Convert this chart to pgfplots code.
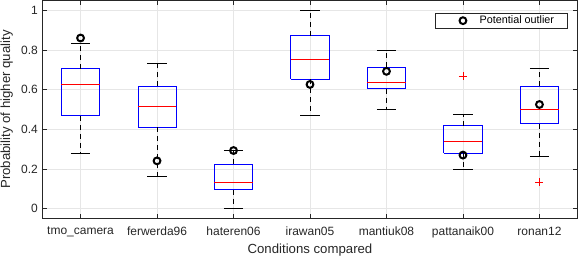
\documentclass[border=0pt]{standalone}
\usepackage{pgfplots}
\pgfplotsset{compat=1.18}
\usepackage{fontspec}
\setmainfont{Liberation Sans}
\definecolor{axcol}{RGB}{38,38,38}
\definecolor{gridcol}{RGB}{230,230,230}
\definecolor{boxblue}{RGB}{0,0,255}
\definecolor{medred}{RGB}{255,0,0}
\begin{document}
\begin{tikzpicture}
\path[use as bounding box] (-42.3bp,-38.7bp) rectangle (538.7bp,218.6bp);
\begin{axis}[
  scale only axis, width=535.4bp, height=218.3bp,
  anchor=south west, at={(0,0)},
  xmin=0.5, xmax=7.5, ymin=-0.05, ymax=1.05,
  xtick={1,2,3,4,5,6,7},
  xticklabels={tmo\_camera,ferwerda96,hateren06,irawan05,mantiuk08,pattanaik00,ronan12},
  ytick={0,0.2,0.4,0.6,0.8,1},
  yticklabels={0,0.2,0.4,0.6,0.8,1},
  tick align=inside, tick pos=both,
  major tick length=5bp,
  every tick/.style={axcol, line width=0.5bp},
  axis line style={axcol, line width=0.6bp},
  grid=major, major grid style={gridcol, line width=0.5bp},
  tick label style={font=\fontsize{12bp}{14bp}\selectfont, text=axcol},
  label style={font=\fontsize{13.2bp}{15bp}\selectfont, text=axcol},
  xlabel={Conditions compared},
  ylabel={Probability of higher quality},
  xlabel style={at={(axis description cs:0.5,0)}, anchor=north, yshift=-22bp},
  ylabel style={at={(axis description cs:0,0.5)}, anchor=south, yshift=26bp},
  xticklabel style={yshift=-5bp},
  yticklabel style={xshift=-1bp},
  unbounded coords=jump,
  legend style={at={(axis description cs:1,1)}, anchor=north east,
    xshift=-10.3bp, yshift=-12.4bp, draw=axcol, line width=0.6bp, fill=white,
    font=\fontsize{10.8bp}{12bp}\selectfont, text=black,
    inner xsep=10bp, inner ysep=1.5bp,
    nodes={inner xsep=3bp, inner ysep=1.5bp}},
  legend cell align=left,
  legend image code/.code={
    \path[draw=none] (0bp,0bp) -- (31.4bp,0bp);
    \draw[#1] plot coordinates {(17.7bp,0bp)};
  },
]
% boxes
\addplot[color=boxblue, line width=0.8bp, mark=none, forget plot] coordinates {(0.75,0.468)(1.25,0.468)(1.25,0.706)(0.75,0.706)(0.75,0.468)};
\addplot[color=boxblue, line width=0.8bp, mark=none, forget plot] coordinates {(1.75,0.411)(2.25,0.411)(2.25,0.616)(1.75,0.616)(1.75,0.411)};
\addplot[color=boxblue, line width=0.8bp, mark=none, forget plot] coordinates {(2.75,0.096)(3.25,0.096)(3.25,0.224)(2.75,0.224)(2.75,0.096)};
\addplot[color=boxblue, line width=0.8bp, mark=none, forget plot] coordinates {(3.75,0.653)(4.25,0.653)(4.25,0.871)(3.75,0.871)(3.75,0.653)};
\addplot[color=boxblue, line width=0.8bp, mark=none, forget plot] coordinates {(4.75,0.605)(5.25,0.605)(5.25,0.714)(4.75,0.714)(4.75,0.605)};
\addplot[color=boxblue, line width=0.8bp, mark=none, forget plot] coordinates {(5.75,0.280)(6.25,0.280)(6.25,0.418)(5.75,0.418)(5.75,0.280)};
\addplot[color=boxblue, line width=0.8bp, mark=none, forget plot] coordinates {(6.75,0.428)(7.25,0.428)(7.25,0.616)(6.75,0.616)(6.75,0.428)};
% whiskers (dashed)
\addplot[black, line width=0.6bp, dash pattern=on 5bp off 4bp, forget plot] coordinates {
(1,0.706)(1,0.835) (nan,nan) (1,0.468)(1,0.280) (nan,nan)
(2,0.616)(2,0.734) (nan,nan) (2,0.411)(2,0.162) (nan,nan)
(3,0.224)(3,0.293) (nan,nan) (3,0.096)(3,0.000) (nan,nan)
(4,0.871)(4,1.000) (nan,nan) (4,0.653)(4,0.473) (nan,nan)
(5,0.714)(5,0.800) (nan,nan) (5,0.605)(5,0.502) (nan,nan)
(6,0.418)(6,0.475) (nan,nan) (6,0.280)(6,0.200) (nan,nan)
(7,0.616)(7,0.707) (nan,nan) (7,0.428)(7,0.266)
};
% whisker caps
\addplot[black, line width=0.6bp, forget plot] coordinates {
(0.875,0.835)(1.125,0.835) (nan,nan) (0.875,0.280)(1.125,0.280) (nan,nan)
(1.875,0.734)(2.125,0.734) (nan,nan) (1.875,0.162)(2.125,0.162) (nan,nan)
(2.875,0.293)(3.125,0.293) (nan,nan) (2.875,0.000)(3.125,0.000) (nan,nan)
(3.875,1.000)(4.125,1.000) (nan,nan) (3.875,0.473)(4.125,0.473) (nan,nan)
(4.875,0.800)(5.125,0.800) (nan,nan) (4.875,0.502)(5.125,0.502) (nan,nan)
(5.875,0.475)(6.125,0.475) (nan,nan) (5.875,0.200)(6.125,0.200) (nan,nan)
(6.875,0.707)(7.125,0.707) (nan,nan) (6.875,0.266)(7.125,0.266)
};
% medians
\addplot[draw=medred, line width=0.7bp, forget plot] coordinates {
(0.75,0.628)(1.25,0.628) (nan,nan)
(1.75,0.515)(2.25,0.515) (nan,nan)
(2.75,0.133)(3.25,0.133) (nan,nan)
(3.75,0.751)(4.25,0.751) (nan,nan)
(4.75,0.636)(5.25,0.636) (nan,nan)
(5.75,0.337)(6.25,0.337) (nan,nan)
(6.75,0.502)(7.25,0.502)
};
% statistical outliers
\addplot[only marks, mark=+, red, mark size=4bp, line width=0.6bp, forget plot] coordinates {(6,0.669) (7,0.135)};
% potential outliers
\addplot[only marks, mark=o, black, mark size=3.4bp, line width=2bp] coordinates {
(1,0.860) (2,0.241) (3,0.293) (4,0.626) (5,0.692) (6,0.270) (7,0.525)};
\addlegendentry{Potential outlier\hspace{3bp}}
\end{axis}
\end{tikzpicture}
\end{document}
